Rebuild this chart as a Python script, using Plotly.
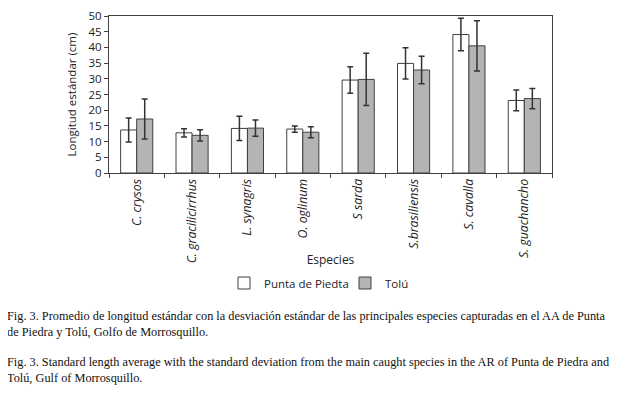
import plotly.graph_objects as go

species = ["C. crysos", "C. gracilicirrhus", "L. synagris", "O. oglinum",
           "S sarda", "S.brasiliensis", "S. cavalla", "S. guachancho"]
pp_mean = [13.7, 12.8, 14.2, 14.0, 29.6, 34.9, 44.1, 23.1]
pp_sd = [3.85, 1.3, 3.85, 1.0, 4.2, 5.0, 5.2, 3.3]
tolu_mean = [17.2, 12.0, 14.3, 13.0, 29.8, 32.8, 40.5, 23.7]
tolu_sd = [6.4, 1.8, 2.6, 1.75, 8.3, 4.4, 8.0, 3.2]
yticks = [0, 5, 10, 15, 20, 25, 30, 35, 40, 45, 50]

caption_es = ("Fig. 3. Promedio de longitud estándar con la desviación estándar de las principales especies capturadas en el AA de Punta<br>"
              "de Piedra y Tolú, Golfo de Morrosquillo.")
caption_en = ("Fig. 3. Standard length average with the standard deviation from the main caught species in the AR of Punta de Piedra and<br>"
              "Tolú, Gulf of Morrosquillo.")

sans = "Open Sans, DejaVu Sans, sans-serif"
serif = "Liberation Serif, Times New Roman, serif"
line_col = "#404040"

# page body has 8px default margin -> figure sized/offset to compensate
W, H = 611, 385
PL, PT, PW, PH = 101, 8, 443, 157

fig = go.Figure()
fig.add_trace(go.Bar(
    x=species, y=pp_mean, name="Punta de Piedta",
    marker=dict(color="white", line=dict(color=line_col, width=1)),
    error_y=dict(type="data", array=pp_sd, color="#333333", thickness=1.5, width=3),
))
fig.add_trace(go.Bar(
    x=species, y=tolu_mean, name="Tolú",
    marker=dict(color="#b4b4b4", line=dict(color=line_col, width=1)),
    error_y=dict(type="data", array=tolu_sd, color="#333333", thickness=1.5, width=3),
))

fig.update_layout(
    width=W, height=H,
    margin=dict(l=PL, r=W - PL - PW, t=PT, b=H - PT - PH, autoexpand=False),
    paper_bgcolor="white", plot_bgcolor="white",
    barmode="group", bargap=0.42, bargroupgap=0,
    font=dict(family=sans, size=11, color="#222222"),
    showlegend=True,
    legend=dict(orientation="h", x=337 / W, xanchor="center", xref="container",
                y=(H - 275) / H, yanchor="middle", yref="container",
                font=dict(size=11.5, family=sans), itemwidth=30, tracegroupgap=0,
                entrywidth=76, entrywidthmode="pixels",
                bgcolor="rgba(0,0,0,0)"),
    xaxis=dict(
        type="category", tickangle=-90, tickson="boundaries", ticks="outside",
        ticklen=4, tickcolor=line_col, showline=True, linecolor=line_col, linewidth=1,
        mirror=True, showgrid=False, automargin=False,
        tickfont=dict(family=sans, size=12.3, style="italic", color="#222222"),
        title=dict(text="Especies", font=dict(size=12, family=sans), standoff=4),
    ),
    yaxis=dict(
        range=[0, 50], tickvals=yticks, ticks="outside", ticklen=4, tickcolor=line_col,
        showline=True, linecolor=line_col, linewidth=1, mirror=True, showgrid=False,
        zeroline=False, tickfont=dict(size=11.5, family=sans), automargin=False,
        title=dict(text="Longitud estándar (cm)", font=dict(size=11.5, family=sans), standoff=9),
    ),
)

cap_x = (-3 - PL) / PW
fig.add_annotation(text=caption_es, xref="paper", yref="paper",
                   x=cap_x, y=(PH - (307 - 16)) / PH, xanchor="left", yanchor="top",
                   align="left", showarrow=False,
                   font=dict(family=serif, size=12.3, color="#111111"))
fig.add_annotation(text=caption_en, xref="paper", yref="paper",
                   x=cap_x, y=(PH - (353 - 16)) / PH, xanchor="left", yanchor="top",
                   align="left", showarrow=False,
                   font=dict(family=serif, size=12.3, color="#111111"))

fig.write_html("out.html")
